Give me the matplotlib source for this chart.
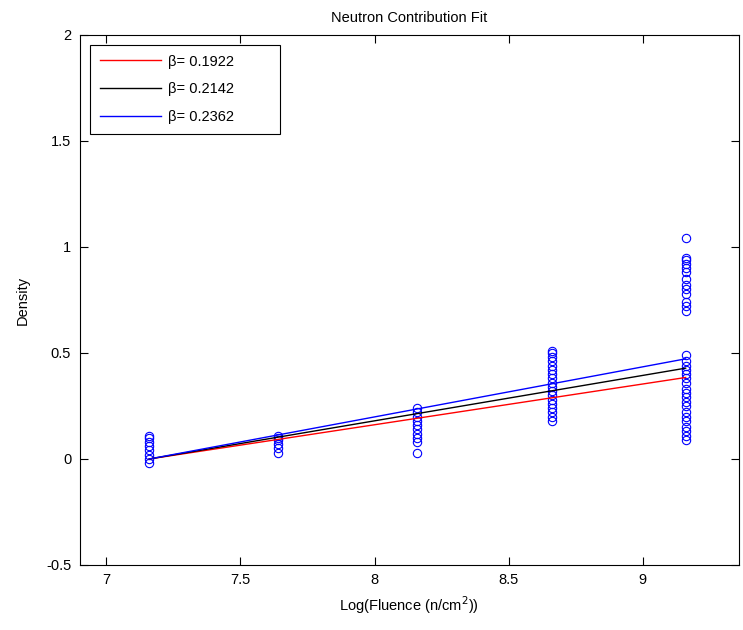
import matplotlib
matplotlib.use("Agg")
import matplotlib.pyplot as plt
import numpy as np

plt.rcParams['font.family'] = ['Liberation Sans', 'DejaVu Sans']

# log fluence levels and measured densities at each level
fluence = [7.16, 7.64, 8.16, 8.66, 9.16]
density_1 = [-0.02, 0.0, 0.02, 0.04, 0.06, 0.08, 0.10, 0.11]
density_2 = [0.03, 0.05, 0.07, 0.09, 0.10, 0.11]
density_3 = [0.03, 0.08, 0.10, 0.12, 0.14, 0.16, 0.18, 0.20, 0.22, 0.24]
density_4 = [0.18, 0.20, 0.22, 0.24, 0.26, 0.28, 0.30, 0.32, 0.34, 0.36,
             0.38, 0.40, 0.42, 0.44, 0.46, 0.48, 0.50, 0.51]
density_5 = [0.09, 0.11, 0.13, 0.15, 0.18, 0.20, 0.22, 0.25, 0.27, 0.29,
             0.31, 0.33, 0.36, 0.38, 0.40, 0.42, 0.44, 0.46, 0.49,
             0.70, 0.72, 0.74, 0.78, 0.80, 0.82, 0.85, 0.88, 0.90, 0.92,
             0.94, 0.95, 1.04]
densities = [density_1, density_2, density_3, density_4, density_5]

# fitted slopes
betas = [0.1922, 0.2142, 0.2362]
beta_colors = ['red', 'black', 'blue']

fig = plt.figure(figsize=(7.43, 6.3), dpi=100)
ax = fig.add_axes([0.107, 0.1032, 0.888, 0.8413])

for x, ys in zip(fluence, densities):
    ax.plot([x] * len(ys), ys, 'o', mfc='none', mec='blue', ms=6, mew=0.8,
            linestyle='none')

xs = np.array(fluence)
lines = []
for b, c in zip(betas, beta_colors):
    ln, = ax.plot(xs, b * (xs - xs[0]), color=c, lw=1.0,
                  label='\u03b2= %.4f' % b)
    lines.append(ln)

ax.set_xlim(6.9, 9.36)
ax.set_ylim(-0.5, 2)
ax.set_xticks([7, 7.5, 8, 8.5, 9])
ax.set_xticklabels(['7', '7.5', '8', '8.5', '9'])
ax.set_yticks([-0.5, 0, 0.5, 1, 1.5, 2])
ax.set_yticklabels(['-0.5', '0', '0.5', '1', '1.5', '2'])
ax.tick_params(direction='in', top=True, right=True, length=6, width=0.8,
               labelsize=10.5, pad=6)
for s in ax.spines.values():
    s.set_linewidth(0.8)

ax.set_title('Neutron Contribution Fit', fontsize=10.5, pad=9)
ax.set_xlabel('Log(Fluence (n/cm$^2$))', fontsize=10.5, labelpad=5)
ax.set_ylabel('Density', fontsize=10.5, labelpad=12)

leg = ax.legend(handles=lines, loc='upper left', fontsize=10.5,
                bbox_to_anchor=(0.016, 0.981, 0.288, 0.0), mode='expand',
                borderaxespad=0.0,
                fancybox=False, framealpha=1, edgecolor='black',
                handlelength=4.2, handletextpad=0.5, labelspacing=0.95,
                borderpad=0.65)
leg.get_frame().set_linewidth(0.8)

fig.savefig('out.png', dpi=100)
